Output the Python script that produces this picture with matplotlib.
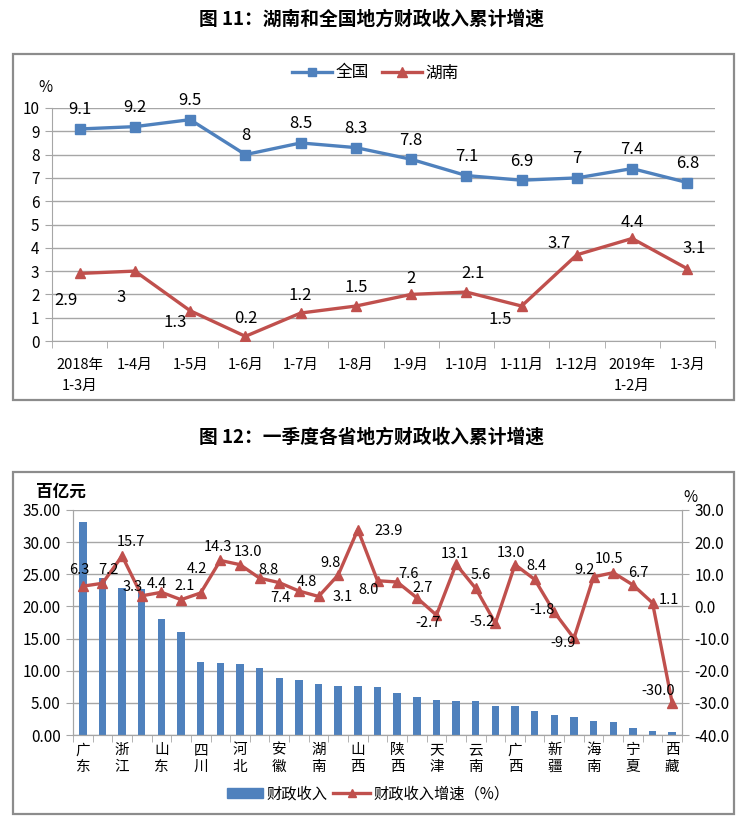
import matplotlib
matplotlib.use("Agg")
import matplotlib.pyplot as plt
from matplotlib.patches import Rectangle
from matplotlib.lines import Line2D
import numpy as np

plt.rcParams['font.family'] = ['Noto Sans CJK SC', 'DejaVu Sans']
plt.rcParams['axes.unicode_minus'] = False

# ---------------- data ----------------
periods = ["2018年\n1-3月", "1-4月", "1-5月", "1-6月", "1-7月", "1-8月", "1-9月",
           "1-10月", "1-11月", "1-12月", "2019年\n1-2月", "1-3月"]
national = [9.1, 9.2, 9.5, 8, 8.5, 8.3, 7.8, 7.1, 6.9, 7, 7.4, 6.8]
hunan = [2.9, 3, 1.3, 0.2, 1.2, 1.5, 2, 2.1, 1.5, 3.7, 4.4, 3.1]

provinces = ["广东", "江苏", "浙江", "上海", "山东", "北京", "四川", "河南", "河北", "湖北",
             "安徽", "福建", "湖南", "江西", "山西", "重庆", "陕西", "内蒙古", "天津", "辽宁",
             "云南", "贵州", "广西", "黑龙江", "新疆", "吉林", "海南", "甘肃", "宁夏", "青海", "西藏"]
revenue = [33.1, 24.4, 22.8, 22.7, 18.0, 16.0, 11.35, 11.2, 11.1, 10.4,
           8.85, 8.5, 7.97, 7.55, 7.55, 7.4, 6.56, 5.94, 5.52, 5.26,
           5.26, 4.53, 4.53, 3.7, 3.13, 2.81, 2.24, 2.08, 1.15, 0.68, 0.42]
growth = [6.3, 7.2, 15.7, 3.3, 4.4, 2.1, 4.2, 14.3, 13.0, 8.8,
          7.4, 4.8, 3.1, 9.8, 23.9, 8.0, 7.6, 2.7, -2.7, 13.1,
          5.6, -5.2, 13.0, 8.4, -1.8, -9.9, 9.2, 10.5, 6.7, 1.1, -30.0]

# ---------------- style ----------------
BLUE = "#4F81BD"
RED = "#C0504D"
GRID = "#A6A6A6"
FRAME = "#8C8C8C"
W, H = 743, 823

# label offsets (pixels) for data labels
nat_off = [(0, 19)] * 12
hun_off = [(-14, -27), (-14, -26), (-15, -12), (0, 18), (0, 18), (0, 19), (0, 16),
           (7, 19), (-21, -13), (-18, 11), (0, 16), (7, 20)]
gr_off = [(-4, 16), (6, 13), (9, 14), (-9, 9), (-4, 8), (4, 14), (-4, 24), (-2, 13),
          (8, 13), (9, 8), (1, -15), (8, 9), (24, -1), (-8, 12), (31, -1), (-9, -9),
          (11, 8), (6, 10), (-8, -8), (-1, 10), (5, 13), (-13, 1), (-4, 12), (2, 13),
          (-12, 2), (-11, -5), (-9, 7), (-4, 14), (5, 12), (16, 3), (-14, 12)]

fig = plt.figure(figsize=(W / 100, H / 100), dpi=100)

def fx(px):
    return px / W

def fy(py):
    return 1 - py / H

# frames
fig.patches.append(Rectangle((fx(13), fy(400)), fx(734) - fx(13), fy(54) - fy(400),
                             transform=fig.transFigure, fill=False, edgecolor=FRAME, lw=1.6))
fig.patches.append(Rectangle((fx(13), fy(814)), fx(734) - fx(13), fy(472) - fy(814),
                             transform=fig.transFigure, fill=False, edgecolor=FRAME, lw=1.6))

# titles
fig.text(0.5, fy(19), "图 11：湖南和全国地方财政收入累计增速", ha="center", va="center",
         fontsize=13.5, fontweight="bold")
fig.text(0.5, fy(437), "图 12：一季度各省地方财政收入累计增速", ha="center", va="center",
         fontsize=13.5, fontweight="bold")

# ---------------- top chart ----------------
ax1 = fig.add_axes([fx(52), fy(341), fx(715) - fx(52), fy(108) - fy(341)])
x = np.arange(len(periods))
ax1.plot(x, national, color=BLUE, lw=2.4, marker="s", ms=6.5, label="全国", zorder=3)
ax1.plot(x, hunan, color=RED, lw=2.4, marker="^", ms=7, label="湖南", zorder=3)
ax1.set_xlim(-0.5, len(periods) - 0.5)
ax1.set_ylim(0, 10)
ax1.set_yticks(range(0, 11))
ax1.yaxis.grid(True, color=GRID, lw=1)
ax1.set_axisbelow(True)
for s in ["top", "right"]:
    ax1.spines[s].set_visible(False)
for s in ["left", "bottom"]:
    ax1.spines[s].set_color(GRID)
ax1.set_xticks(x)
ax1.set_xticklabels(periods, fontsize=10.5, linespacing=1.7)
ax1.set_xticks(np.arange(-0.5, len(periods)), minor=True)
ax1.tick_params(axis="x", which="major", length=0, pad=12)
ax1.tick_params(axis="x", which="minor", length=5, color=GRID)
ax1.tick_params(axis="y", length=5, color=GRID, labelsize=11, pad=4)
for xi, v, o in zip(x, national, nat_off):
    ax1.annotate(f"{v:g}", (xi, v), xytext=o, textcoords="offset pixels",
                 ha="center", va="center", fontsize=12)
for xi, v, o in zip(x, hunan, hun_off):
    ax1.annotate(f"{v:g}", (xi, v), xytext=o, textcoords="offset pixels",
                 ha="center", va="center", fontsize=12)
fig.text(fx(45), fy(88), "%", ha="center", va="center", fontsize=11)
fig.legend(handles=[Line2D([], [], color=BLUE, lw=2.4, marker="s", ms=6),
                    Line2D([], [], color=RED, lw=2.4, marker="^", ms=6.5)],
           labels=["全国", "湖南"], loc="center", bbox_to_anchor=(fx(375), fy(73)),
           ncol=2, frameon=False, fontsize=12, handlelength=2.4, handletextpad=0.2,
           columnspacing=0.8)

# ---------------- bottom chart ----------------
ax2 = fig.add_axes([fx(73), fy(735), fx(682) - fx(73), fy(510) - fy(735)])
xp = np.arange(len(provinces))
ax2.bar(xp, revenue, width=0.38, color=BLUE, zorder=2)
ax2.set_xlim(-0.5, len(provinces) - 0.5)
ax2.set_ylim(0, 35)
ax2.set_yticks(np.arange(0, 36, 5))
ax2.set_yticklabels([f"{v:.2f}" for v in np.arange(0, 36, 5)])
ax2.yaxis.grid(True, color=GRID, lw=1)
ax2.set_axisbelow(True)
ax2.spines["top"].set_visible(False)
for s in ["left", "bottom", "right"]:
    ax2.spines[s].set_color(GRID)
ax2.set_xticks(xp[::2])
ax2.set_xticklabels(["\n".join(p) for p in provinces[::2]], fontsize=10.5,
                    linespacing=1.25)
ax2.set_xticks(np.arange(-0.5, len(provinces)), minor=True)
ax2.tick_params(axis="x", which="major", length=0, pad=6)
ax2.tick_params(axis="x", which="minor", length=5, color=GRID)
ax2.tick_params(axis="y", length=5, color=GRID, labelsize=11, pad=4)

ax3 = ax2.twinx()
ax3.plot(xp, growth, color=RED, lw=2.4, marker="^", ms=6.5, zorder=3)
ax3.set_ylim(-40, 30)
ax3.set_yticks(np.arange(-40, 31, 10))
ax3.set_yticklabels([f"{v:.1f}" for v in np.arange(-40, 31, 10)])
ax3.tick_params(axis="y", length=5, color=GRID, labelsize=11, pad=4)
ax3.spines["top"].set_visible(False)
for s in ["left", "bottom", "right"]:
    ax3.spines[s].set_color(GRID)
for xi, v, o in zip(xp, growth, gr_off):
    ax3.annotate(f"{v:.1f}", (xi, v), xytext=o, textcoords="offset pixels",
                 ha="center", va="center", fontsize=10.5)

fig.text(fx(61), fy(492), "百亿元", ha="center", va="center", fontsize=12,
         fontweight="bold")
fig.text(fx(690), fy(497), "%", ha="center", va="center", fontsize=11)

fig.legend(handles=[Rectangle((0, 0), 1, 1, color=BLUE),
                    Line2D([], [], color=RED, lw=2.4, marker="^", ms=6)],
           labels=["财政收入", "财政收入增速（%）"], loc="center",
           bbox_to_anchor=(fx(368), fy(794)), ncol=2, frameon=False, fontsize=11,
           handlelength=2.4, handleheight=0.6, handletextpad=0.2, columnspacing=0.4)

fig.savefig("out.png", dpi=100)
